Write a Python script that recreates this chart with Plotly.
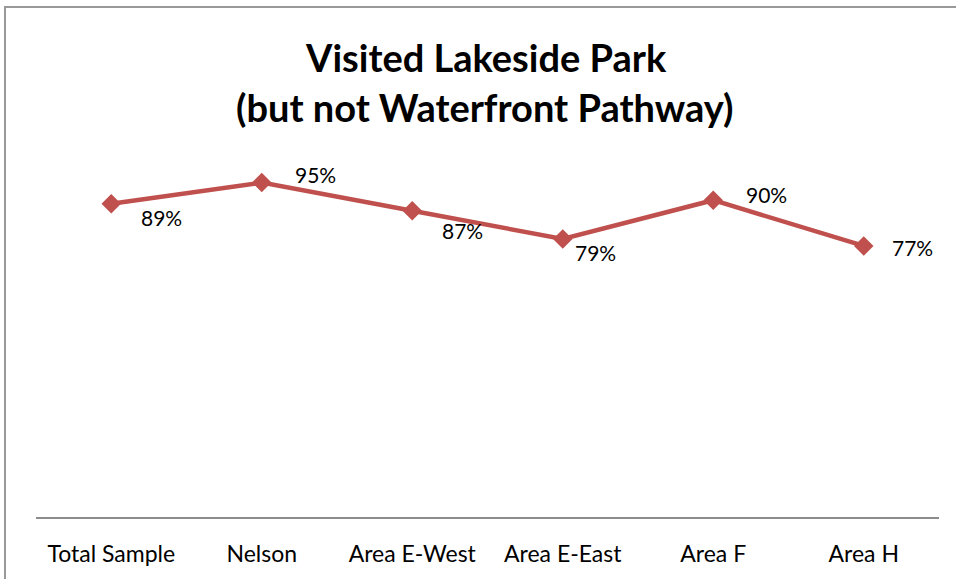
import plotly.graph_objects as go

# Survey share that visited Lakeside Park but not the Waterfront Pathway
areas = ["Total Sample", "Nelson", "Area E-West", "Area E-East", "Area F", "Area H"]
visited_share = [0.89, 0.95, 0.87, 0.79, 0.90, 0.77]
title_lines = ["Visited Lakeside Park", "(but not Waterfront Pathway)"]

# label offsets (pixels) relative to each marker
label_dx = [50, 54, 50, 33, 53, 49]
label_dy = [14, -8, 20, 14, -6, 2]

W, H = 956, 579
L, R, T, B = 36, 17, 165, 62
PW, PH = W - L - R, H - T - B

LINE_COLOR = "#C0504D"
FONT = "Lato, 'Open Sans', sans-serif"


def px_to_paper(x, y):
    return (x - L) / PW, (H - B - y) / PH


fig = go.Figure()
fig.add_trace(go.Scatter(
    x=areas,
    y=visited_share,
    mode="lines+markers",
    line=dict(color=LINE_COLOR, width=4.5),
    marker=dict(symbol="diamond", size=15, color=LINE_COLOR),
    hoverinfo="skip",
    showlegend=False,
))

for a, v, dx, dy in zip(areas, visited_share, label_dx, label_dy):
    fig.add_annotation(
        x=a, y=v, text=f"{round(v * 100)}%", showarrow=False,
        xshift=dx, yshift=-dy,
        font=dict(family=FONT, size=21, color="#000000"),
    )

# two-line bold title
for line, (cx, cy) in zip(title_lines, [(486, 57), (485, 107)]):
    tx, ty = px_to_paper(cx, cy)
    fig.add_annotation(
        x=tx, y=ty, xref="paper", yref="paper", xanchor="center", yanchor="middle",
        text=f"<b>{line}</b>", showarrow=False,
        font=dict(family=FONT, size=38, color="#000000"),
    )

# chart frame (top and left edges)
x0, y0 = px_to_paper(5, H + 5)
x1, y1 = px_to_paper(5, 7)
x2, _ = px_to_paper(W + 5, 7)
fig.add_shape(type="path", xref="paper", yref="paper",
              path=f"M {x0} {y0} L {x1} {y1} L {x2} {y1}",
              line=dict(color="#999999", width=2))

fig.update_layout(
    width=W, height=H,
    margin=dict(l=L, r=R, t=T, b=B),
    paper_bgcolor="white", plot_bgcolor="white",
    xaxis=dict(
        type="category", range=[-0.5, 5.5],
        showline=True, linecolor="#8C8C8C", linewidth=2,
        showgrid=False, zeroline=False, ticks="",
        ticklabelstandoff=15,
        tickfont=dict(family=FONT, size=23, color="#000000"),
    ),
    yaxis=dict(range=[0, 1], visible=False, showgrid=False, zeroline=False),
)

fig.write_html("out.html")
